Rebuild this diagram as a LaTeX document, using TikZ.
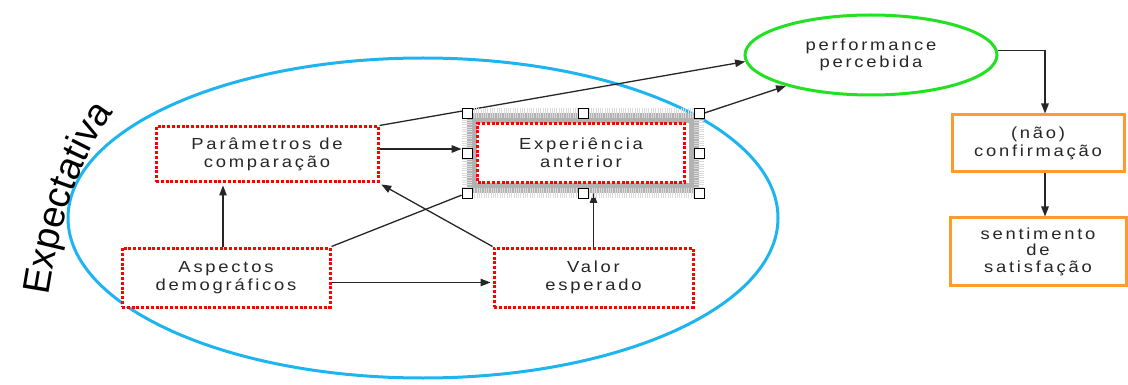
\documentclass[tikz,border=0pt]{standalone}
\usepackage{fontspec}
\usepackage{graphicx}
\setmainfont{Liberation Sans}
\newfontfamily\boxfont[LetterSpace=15]{Liberation Sans}
\newcommand{\wl}[1]{\scalebox{1.15}[1]{#1}}
\usetikzlibrary{shapes.geometric,arrows.meta,decorations.text}
\pgfdeclarelayer{bg}
\pgfsetlayers{bg,main}
\definecolor{cyanline}{HTML}{1EB4F0}
\definecolor{greenline}{HTML}{22E022}
\definecolor{orangeline}{HTML}{FF9A2E}
\begin{document}
\begin{tikzpicture}[x=1pt,y=-1pt,
 txt/.style={font=\boxfont\fontsize{16}{17.5}\selectfont, text=black!85, align=center},
 redbox/.style={txt, rectangle, draw=red, line width=3pt, dash pattern=on 3pt off 1.8pt, fill=white, inner sep=0pt},
 orangebox/.style={txt, rectangle, draw=orangeline, line width=3pt, fill=white, inner sep=0pt},
 conn/.style={draw=black!85, line width=1.3pt, -{Triangle[length=10pt,width=7.5pt]}},
 plain/.style={draw=black!85, line width=1.3pt},
 handle/.style={rectangle, draw=black, fill=white, line width=0.9pt, minimum size=10pt, inner sep=0pt},
]
\useasboundingbox (0,0) rectangle (1128,385);

\begin{pgfonlayer}{bg}
\node[ellipse, draw=cyanline, line width=3pt, minimum width=710pt, minimum height=320pt, inner sep=0pt] (expect) at (423,218) {};
\end{pgfonlayer}

\coordinate (ea) at (48,298);
\coordinate (eb) at (116,110);
\path[decorate, decoration={text along path, text align=center,
  text={|\fontsize{38}{38}\selectfont|Expectativa}}]
  (ea) .. controls (58,232) and (76,160) .. (eb);

\node[redbox, minimum width=222pt, minimum height=55pt] (par) at (267,154.5) {\wl{Parâmetros de}\\\wl{comparação}};
\node[redbox, minimum width=208pt, minimum height=59pt] (asp) at (226,277.5) {\wl{Aspectos}\\\wl{demográficos}};
\node[redbox, minimum width=199pt, minimum height=59pt] (val) at (593.5,277.5) {\wl{Valor}\\\wl{esperado}};

\node[rectangle, draw=gray!60, line width=10pt, minimum width=222pt, minimum height=70pt, inner sep=0pt] (sel) at (583,153) {};
\draw[gray!28, line width=10pt, dash pattern=on 1pt off 1.3pt] (sel.north west) rectangle (sel.south east);
\node[redbox, minimum width=207pt, minimum height=59pt] (exp) at (581,153) {\wl{Experiência}\\\wl{anterior}};
\node[handle] (h1) at (sel.north west) {};
\node[handle] (h2) at (sel.north) {};
\node[handle] (h3) at (sel.north east) {};
\node[handle] (h4) at (sel.east) {};
\node[handle] (h5) at (sel.south east) {};
\node[handle] (h6) at (sel.south) {};
\node[handle] (h7) at (sel.south west) {};
\node[handle] (h8) at (sel.west) {};

\node[ellipse, txt, draw=greenline, line width=3pt, minimum width=252pt, minimum height=80pt, inner sep=0pt, fill=white] (perf) at (871,55) {\wl{performance}\\\wl{percebida}};
\node[orangebox, minimum width=172pt, minimum height=57pt] (conf) at (1038,143.5) {\wl{(não)}\\\wl{confirmação}};
\node[orangebox, minimum width=176pt, minimum height=67pt, font=\boxfont\fontsize{16}{16.5}\selectfont] (sent) at (1038,251.5) {\wl{sentimento}\\\wl{de}\\\wl{satisfação}};

\begin{pgfonlayer}{bg}
\draw[conn] (par.north east) -- (perf.183);
\draw[conn] (h3.east) -- (perf.200);
\draw[conn] (perf.2) -| ([xshift=7pt]conf.north);
\draw[conn] ([xshift=7pt]conf.south) -- ([xshift=7pt]sent.north);
\draw[conn] ([yshift=4pt]par.east |- h8) -- ([yshift=4pt]h8.west);
\draw[conn, shorten >=2pt] ([xshift=-3pt]asp.north) -- ([xshift=-3pt]asp.north |- par.south);
\draw[plain] (asp.north east) -- (h7);
\draw[conn, shorten >=2pt] (val.north west) -- (par.south east);
\draw[conn] (val.north) -- (val.north |- sel.south);
\draw[conn, shorten >=2pt] ([yshift=-5pt]asp.east) -- ([yshift=-5pt]val.west);
\end{pgfonlayer}
\end{tikzpicture}
\end{document}
